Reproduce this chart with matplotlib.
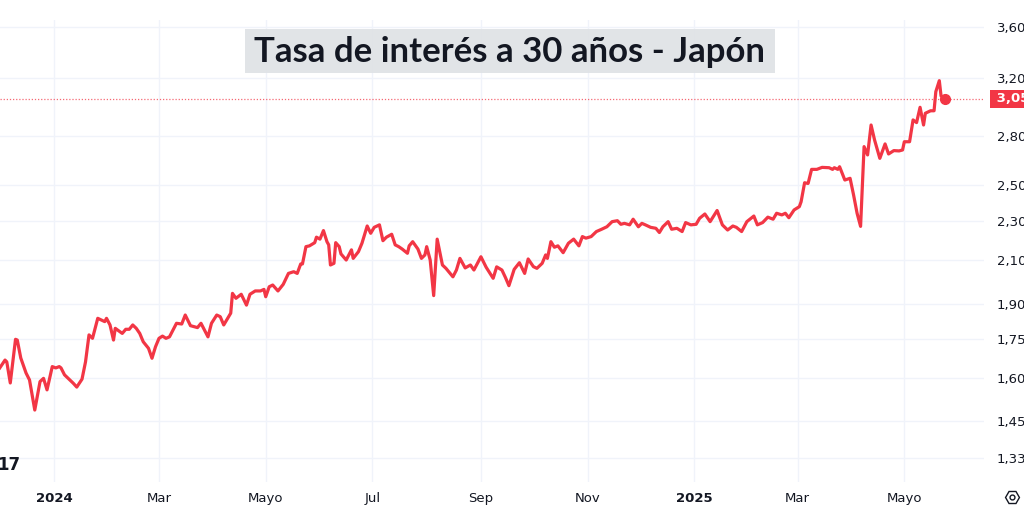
import matplotlib
matplotlib.use("Agg")
import matplotlib.pyplot as plt
from matplotlib.lines import Line2D
from matplotlib.patches import Rectangle
from matplotlib.ticker import FixedLocator, NullLocator, FuncFormatter
import pandas as pd

TITLE = "Tasa de interés a 30 años - Japón"

# rendimiento del bono japonés a 30 años (%)
DATES = [
    "2023-12-01", "2023-12-04", "2023-12-05", "2023-12-07", "2023-12-10", "2023-12-11",
    "2023-12-13", "2023-12-15", "2023-12-16", "2023-12-18", "2023-12-21", "2023-12-24",
    "2023-12-26", "2023-12-28", "2023-12-31", "2024-01-02", "2024-01-04", "2024-01-05",
    "2024-01-07", "2024-01-10", "2024-01-12", "2024-01-14", "2024-01-17", "2024-01-19",
    "2024-01-21", "2024-01-23", "2024-01-26", "2024-01-28", "2024-01-30", "2024-01-31",
    "2024-02-02", "2024-02-04", "2024-02-05", "2024-02-09", "2024-02-11", "2024-02-13",
    "2024-02-15", "2024-02-17", "2024-02-19", "2024-02-21", "2024-02-24", "2024-02-26",
    "2024-02-28", "2024-03-01", "2024-03-03", "2024-03-05", "2024-03-07", "2024-03-09",
    "2024-03-11", "2024-03-14", "2024-03-16", "2024-03-19", "2024-03-23", "2024-03-25",
    "2024-03-27", "2024-03-29", "2024-03-31", "2024-04-03", "2024-04-05", "2024-04-07",
    "2024-04-11", "2024-04-12", "2024-04-14", "2024-04-17", "2024-04-20", "2024-04-22",
    "2024-04-25", "2024-04-28", "2024-04-30", "2024-05-01", "2024-05-03", "2024-05-05",
    "2024-05-08", "2024-05-11", "2024-05-14", "2024-05-17", "2024-05-19", "2024-05-21",
    "2024-05-22", "2024-05-24", "2024-05-26", "2024-05-29", "2024-05-30", "2024-06-01",
    "2024-06-03", "2024-06-05", "2024-06-06", "2024-06-07", "2024-06-09", "2024-06-10",
    "2024-06-12", "2024-06-13", "2024-06-16", "2024-06-19", "2024-06-20", "2024-06-23",
    "2024-06-25", "2024-06-28", "2024-06-30", "2024-07-02", "2024-07-05", "2024-07-07",
    "2024-07-09", "2024-07-12", "2024-07-14", "2024-07-16", "2024-07-18", "2024-07-21",
    "2024-07-22", "2024-07-24", "2024-07-27", "2024-07-29", "2024-07-31", "2024-08-01",
    "2024-08-03", "2024-08-05", "2024-08-07", "2024-08-10", "2024-08-12", "2024-08-16",
    "2024-08-18", "2024-08-20", "2024-08-23", "2024-08-26", "2024-08-28", "2024-09-01",
    "2024-09-04", "2024-09-08", "2024-09-10", "2024-09-13", "2024-09-15", "2024-09-17",
    "2024-09-20", "2024-09-23", "2024-09-26", "2024-09-28", "2024-10-01", "2024-10-03",
    "2024-10-06", "2024-10-08", "2024-10-09", "2024-10-11", "2024-10-13", "2024-10-15",
    "2024-10-18", "2024-10-21", "2024-10-24", "2024-10-27", "2024-10-29", "2024-10-31",
    "2024-11-03", "2024-11-06", "2024-11-09", "2024-11-12", "2024-11-15", "2024-11-18",
    "2024-11-20", "2024-11-22", "2024-11-25", "2024-11-27", "2024-11-30", "2024-12-02",
    "2024-12-04", "2024-12-07", "2024-12-10", "2024-12-12", "2024-12-14", "2024-12-17",
    "2024-12-19", "2024-12-22", "2024-12-25", "2024-12-27", "2024-12-30", "2025-01-02",
    "2025-01-04", "2025-01-07", "2025-01-10", "2025-01-14", "2025-01-17", "2025-01-20",
    "2025-01-23", "2025-01-25", "2025-01-28", "2025-01-31", "2025-02-04", "2025-02-06",
    "2025-02-09", "2025-02-12", "2025-02-15", "2025-02-17", "2025-02-20", "2025-02-22",
    "2025-02-24", "2025-02-27", "2025-03-02", "2025-03-03", "2025-03-05", "2025-03-07",
    "2025-03-09", "2025-03-12", "2025-03-15", "2025-03-19", "2025-03-21", "2025-03-22",
    "2025-03-24", "2025-03-25", "2025-03-28", "2025-03-31", "2025-04-02", "2025-04-04",
    "2025-04-06", "2025-04-08", "2025-04-10", "2025-04-12", "2025-04-14", "2025-04-17",
    "2025-04-20", "2025-04-22", "2025-04-25", "2025-04-28", "2025-04-30", "2025-05-01",
    "2025-05-04", "2025-05-06", "2025-05-08", "2025-05-10", "2025-05-12", "2025-05-13",
    "2025-05-16", "2025-05-18", "2025-05-19", "2025-05-21", "2025-05-22", "2025-05-24",
]
YIELDS = [
    1.638, 1.668, 1.661, 1.582, 1.750, 1.747,
    1.676, 1.638, 1.619, 1.593, 1.486, 1.587,
    1.599, 1.557, 1.643, 1.638, 1.643, 1.638,
    1.612, 1.593, 1.581, 1.567, 1.596, 1.661,
    1.768, 1.754, 1.837, 1.830, 1.823, 1.837,
    1.809, 1.747, 1.795, 1.774, 1.791, 1.791,
    1.809, 1.795, 1.774, 1.740, 1.714, 1.675,
    1.720, 1.754, 1.763, 1.754, 1.760, 1.788,
    1.816, 1.813, 1.851, 1.806, 1.798, 1.816,
    1.788, 1.760, 1.816, 1.851, 1.844, 1.809,
    1.859, 1.946, 1.924, 1.942, 1.894, 1.942,
    1.957, 1.957, 1.964, 1.931, 1.976, 1.984,
    1.957, 1.987, 2.038, 2.046, 2.038, 2.083,
    2.083, 2.168, 2.172, 2.188, 2.216, 2.206,
    2.250, 2.193, 2.177, 2.078, 2.086, 2.188,
    2.168, 2.132, 2.102, 2.152, 2.110, 2.143,
    2.185, 2.274, 2.236, 2.267, 2.280, 2.198,
    2.216, 2.231, 2.177, 2.168, 2.156, 2.135,
    2.172, 2.193, 2.156, 2.110, 2.127, 2.168,
    2.102, 1.936, 2.206, 2.078, 2.062, 2.022,
    2.054, 2.110, 2.064, 2.078, 2.054, 2.118,
    2.067, 2.015, 2.069, 2.054, 2.019, 1.981,
    2.057, 2.089, 2.038, 2.107, 2.070, 2.062,
    2.086, 2.127, 2.110, 2.193, 2.165, 2.172,
    2.138, 2.185, 2.206, 2.172, 2.219, 2.211,
    2.219, 2.245, 2.257, 2.270, 2.297, 2.302,
    2.283, 2.288, 2.280, 2.310, 2.270, 2.288,
    2.280, 2.267, 2.262, 2.240, 2.270, 2.297,
    2.257, 2.262, 2.245, 2.292, 2.280, 2.283,
    2.315, 2.338, 2.297, 2.357, 2.280, 2.253,
    2.274, 2.267, 2.245, 2.297, 2.327, 2.280,
    2.292, 2.321, 2.310, 2.342, 2.333, 2.342,
    2.318, 2.360, 2.378, 2.405, 2.513, 2.509,
    2.592, 2.592, 2.604, 2.602, 2.592, 2.602,
    2.592, 2.608, 2.529, 2.539, 2.443, 2.342,
    2.272, 2.732, 2.680, 2.872, 2.774, 2.659,
    2.749, 2.686, 2.707, 2.705, 2.711, 2.763,
    2.763, 2.906, 2.888, 2.992, 2.872, 2.951,
    2.968, 2.968, 3.102, 3.182, 3.071, 3.050,
]
LAST_VALUE = 3.050

X_TICKS = ["2024-01-01", "2024-03-01", "2024-05-01", "2024-07-01", "2024-09-01",
           "2024-11-01", "2025-01-01", "2025-03-01", "2025-05-01"]
X_LABELS = ["2024", "Mar", "Mayo", "Jul", "Sep", "Nov", "2025", "Mar", "Mayo"]
Y_TICKS = [1.33, 1.45, 1.6, 1.75, 1.9, 2.1, 2.3, 2.5, 2.8, 3.2, 3.6]

RED = "#f23645"
TEXT = "#131722"
GRID = "#f0f3fa"
W, H = 1024, 515


def es_number(v, pos=None):
    return f"{v:.3f}".replace(".", ",")


def main():
    plt.rcParams["font.family"] = ["DejaVu Sans"]
    fig = plt.figure(figsize=(W / 100, H / 100), dpi=100)
    ax = fig.add_axes([0, (H - 482) / H, 984 / W, (482 - 20) / H])

    dates = pd.to_datetime(DATES)
    ax.plot(dates, YIELDS, color=RED, lw=2.3, solid_joinstyle="round", zorder=3)
    ax.plot(dates[-1], YIELDS[-1], "o", ms=7, color=RED, zorder=4)
    ax.axhline(LAST_VALUE, color=RED, lw=0.9, ls=(0, (1, 1.5)), alpha=0.75, zorder=2)

    ax.set_yscale("log")
    ax.set_ylim(1.2583, 3.661)
    ax.set_xlim(pd.Timestamp("2023-12-01 03:00"), pd.Timestamp("2025-06-15 13:00"))

    ax.yaxis.set_major_locator(FixedLocator(Y_TICKS))
    ax.yaxis.set_minor_locator(NullLocator())
    ax.yaxis.set_major_formatter(FuncFormatter(es_number))
    ax.yaxis.tick_right()
    ax.tick_params(axis="y", length=0, pad=9.3, labelsize=9.5, labelcolor=TEXT)

    ax.set_xticks(pd.to_datetime(X_TICKS))
    ax.set_xticklabels(X_LABELS)
    ax.xaxis.set_minor_locator(NullLocator())
    ax.tick_params(axis="x", length=0, pad=7, labelsize=9.5, labelcolor=TEXT)
    for lab in ax.get_xticklabels():
        if lab.get_text().isdigit():
            lab.set_fontweight("bold")

    ax.grid(True, color=GRID, lw=1)
    for sp in ax.spines.values():
        sp.set_visible(False)

    # etiqueta del último valor
    ax.annotate(" " + es_number(LAST_VALUE), xy=(1, LAST_VALUE),
                xycoords=("axes fraction", "data"), xytext=(6, 0),
                textcoords="offset points", ha="left", va="center",
                color="white", fontsize=9.5, fontweight="bold",
                bbox=dict(boxstyle="square,pad=0.2", fc=RED, ec="none"),
                annotation_clip=False)

    # título en caja gris
    fig.patches.append(Rectangle((245 / W, 1 - 73 / H), 530 / W, 44 / H,
                                 transform=fig.transFigure, fc="#e0e3e6",
                                 ec="none", alpha=0.95, zorder=5))
    fig.text(510 / W, 1 - 62 / H, TITLE, ha="center", va="baseline",
             fontsize=25, fontweight="bold", family="Lato", color=TEXT, zorder=6)

    # logo y botón de ajustes
    fig.text(-3 / W, 1 - 470 / H, "17", fontsize=12, fontweight="heavy",
             color=TEXT, va="baseline", ha="left")
    fig.add_artist(Line2D([1012 / W], [1 - 497 / H], transform=fig.transFigure,
                          marker="H", ms=10, mfc="none", mec=TEXT, mew=1))
    fig.add_artist(Line2D([1012 / W], [1 - 497 / H], transform=fig.transFigure,
                          marker="o", ms=3.5, mfc="none", mec=TEXT, mew=1))

    fig.savefig("out.png", dpi=100)
    plt.close(fig)


if __name__ == "__main__":
    main()
